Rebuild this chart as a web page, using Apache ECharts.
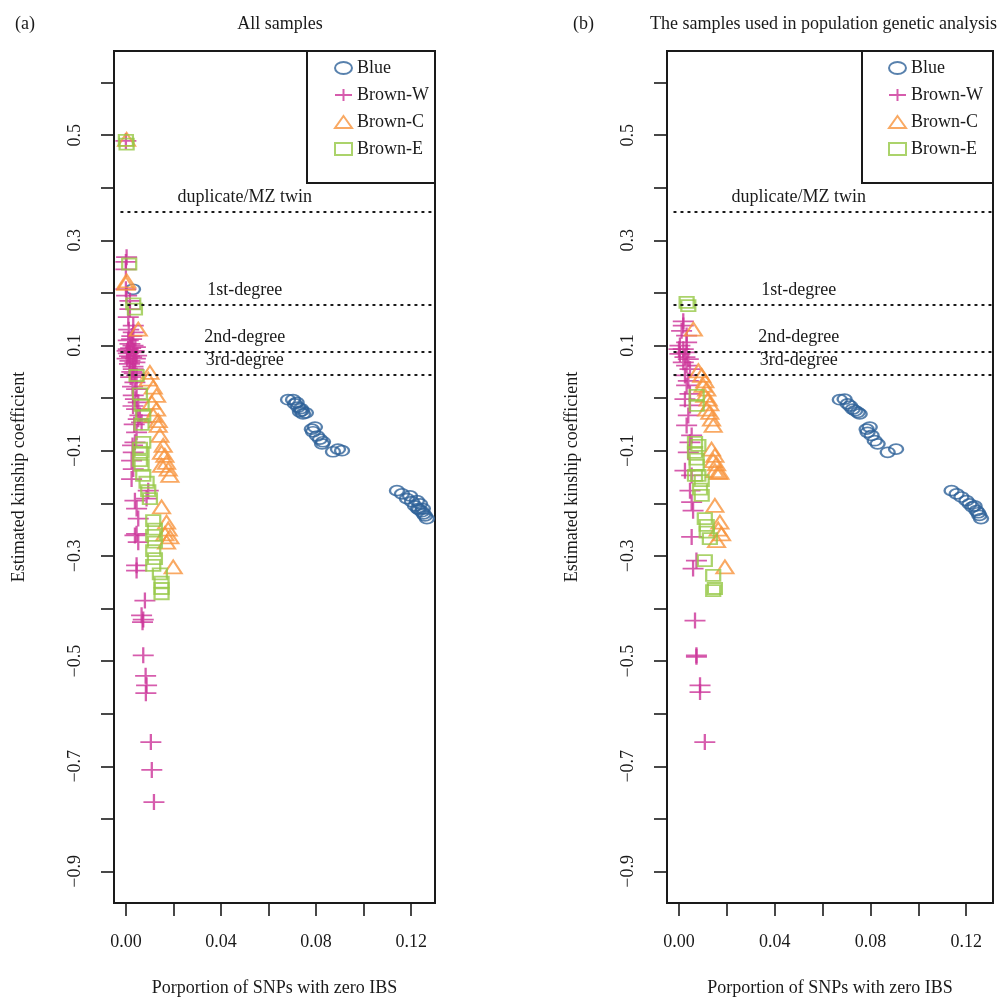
<!DOCTYPE html>
<html>
<head>
<meta charset="utf-8">
<script src="https://cdn.jsdelivr.net/npm/echarts@6/dist/echarts.min.js"></script>
<style>
  html, body { margin: 0; padding: 0; background: #fff; }
  #main { width: 1004px; height: 1003px; }
</style>
</head>
<body>
<div id="main"></div>
<script>
// [x = proportion of SNPs with zero IBS, y = estimated kinship coefficient]
const blueA = [
  [0.0030, 0.207],
  [0.0682, -0.003], [0.0703, -0.003], [0.0711, -0.011], [0.0724, -0.017], [0.0732, -0.026],
  [0.0740, -0.024], [0.0745, -0.030], [0.0757, -0.028], [0.0718, -0.008], [0.0736, -0.020],
  [0.0782, -0.059], [0.0795, -0.055], [0.0787, -0.064], [0.0804, -0.072], [0.0816, -0.078],
  [0.0825, -0.087], [0.0829, -0.083], [0.0871, -0.102], [0.0892, -0.097], [0.0909, -0.100],
  [0.1140, -0.176], [0.1161, -0.182], [0.1182, -0.191], [0.1195, -0.186], [0.1203, -0.197],
  [0.1216, -0.205], [0.1224, -0.195], [0.1228, -0.210], [0.1237, -0.201], [0.1245, -0.216],
  [0.1249, -0.210], [0.1258, -0.224], [0.1266, -0.229], [0.1252, -0.220], [0.1233, -0.212]
];
const brownWA = [
  [0.0000, 0.489],
  [0.0003, 0.268], [0.0000, 0.259], [0.0000, 0.245], [0.0000, 0.207], [0.0003, 0.195],
  [0.0017, 0.185], [0.0017, 0.169], [0.0010, 0.154], [0.0031, 0.138], [0.0031, 0.125],
  [0.0024, 0.112], [0.0010, 0.110], [0.0017, 0.103], [0.0030, 0.100], [0.0010, 0.093],
  [0.0005, 0.090], [0.0020, 0.095], [0.0035, 0.090], [0.0031, 0.087], [0.0010, 0.085],
  [0.0024, 0.078], [0.0045, 0.081], [0.0005, 0.075], [0.0040, 0.075], [0.0017, 0.071],
  [0.0038, 0.068], [0.0015, 0.065], [0.0030, 0.060], [0.0031, 0.055], [0.0025, 0.050],
  [0.0045, 0.043], [0.0020, 0.040], [0.0038, 0.030], [0.0045, 0.017], [0.0031, 0.005],
  [0.0012, 0.130], [0.0025, 0.118], [0.0040, 0.097], [0.0015, 0.080], [0.0035, 0.047],
  [0.0028, 0.022], [0.0040, -0.002], [0.0030, -0.015], [0.0035, -0.050], [0.0028, -0.090],
  [0.0052, -0.008], [0.0045, -0.021], [0.0059, -0.033], [0.0052, -0.040], [0.0066, -0.046],
  [0.0045, -0.065], [0.0038, -0.084], [0.0031, -0.103], [0.0024, -0.119], [0.0031, -0.135],
  [0.0024, -0.154], [0.0094, -0.176], [0.0087, -0.191], [0.0038, -0.195], [0.0045, -0.210],
  [0.0052, -0.229], [0.0045, -0.258], [0.0038, -0.261], [0.0052, -0.274], [0.0045, -0.318],
  [0.0045, -0.328], [0.0080, -0.385], [0.0066, -0.413], [0.0073, -0.421], [0.0070, -0.426],
  [0.0073, -0.489], [0.0083, -0.528], [0.0087, -0.546], [0.0084, -0.561], [0.0105, -0.654],
  [0.0109, -0.707], [0.0118, -0.768]
];
const brownCA = [
  [0.0003, 0.492], [0.0003, 0.223], [0.0000, 0.218], [0.0052, 0.131], [0.0101, 0.049],
  [0.0094, 0.036], [0.0115, 0.021], [0.0129, 0.005], [0.0108, -0.008], [0.0129, -0.021],
  [0.0115, -0.033], [0.0136, -0.043], [0.0136, -0.052], [0.0143, -0.071], [0.0157, -0.090],
  [0.0150, -0.103], [0.0164, -0.109], [0.0171, -0.122], [0.0150, -0.128], [0.0178, -0.135],
  [0.0185, -0.147], [0.0150, -0.207], [0.0171, -0.236], [0.0178, -0.249], [0.0164, -0.258],
  [0.0185, -0.264], [0.0171, -0.274], [0.0199, -0.321]
];
const brownEA = [
  [0.0003, 0.483], [0.0000, 0.490], [0.0014, 0.255], [0.0031, 0.179], [0.0038, 0.169],
  [0.0045, 0.043], [0.0059, 0.008], [0.0066, -0.014], [0.0073, -0.033], [0.0066, -0.050],
  [0.0073, -0.084], [0.0059, -0.095], [0.0066, -0.103], [0.0059, -0.119], [0.0066, -0.128],
  [0.0073, -0.147], [0.0087, -0.160], [0.0094, -0.176], [0.0101, -0.191], [0.0115, -0.233],
  [0.0122, -0.249], [0.0115, -0.261], [0.0122, -0.274], [0.0115, -0.290], [0.0122, -0.305],
  [0.0115, -0.318], [0.0143, -0.334], [0.0150, -0.350], [0.0150, -0.362], [0.0150, -0.372]
];

const blueB = [
  [0.0672, -0.003], [0.0692, -0.002], [0.0705, -0.011], [0.0715, -0.015], [0.0726, -0.021],
  [0.0736, -0.024], [0.0747, -0.027], [0.0755, -0.030], [0.0784, -0.059], [0.0797, -0.055],
  [0.0788, -0.065], [0.0805, -0.071], [0.0818, -0.081], [0.0830, -0.087], [0.0872, -0.103],
  [0.0907, -0.097], [0.1139, -0.176], [0.1160, -0.182], [0.1180, -0.188], [0.1201, -0.195],
  [0.1214, -0.201], [0.1226, -0.207], [0.1243, -0.214], [0.1255, -0.223], [0.1262, -0.229],
  [0.1235, -0.205], [0.1250, -0.218]
];
const brownWB = [
  [0.0018, 0.146], [0.0018, 0.138], [0.0011, 0.128], [0.0032, 0.119], [0.0032, 0.106],
  [0.0004, 0.100], [0.0000, 0.093], [0.0018, 0.093], [0.0032, 0.087], [0.0004, 0.084],
  [0.0025, 0.078], [0.0039, 0.074], [0.0018, 0.068], [0.0032, 0.062], [0.0046, 0.055],
  [0.0025, 0.043], [0.0039, 0.033], [0.0032, 0.024], [0.0046, 0.008], [0.0025, -0.002],
  [0.0046, -0.014], [0.0039, -0.033], [0.0032, -0.052], [0.0053, -0.071], [0.0046, -0.084],
  [0.0039, -0.103], [0.0025, -0.138], [0.0053, -0.147], [0.0046, -0.176], [0.0053, -0.198],
  [0.0059, -0.214], [0.0053, -0.264], [0.0073, -0.309], [0.0059, -0.324], [0.0067, -0.423],
  [0.0073, -0.489], [0.0073, -0.492], [0.0088, -0.546], [0.0088, -0.559], [0.0108, -0.654]
];
const brownCB = [
  [0.0060, 0.131], [0.0081, 0.052], [0.0095, 0.043], [0.0108, 0.033], [0.0101, 0.024],
  [0.0116, 0.017], [0.0108, 0.005], [0.0122, -0.002], [0.0129, -0.011], [0.0116, -0.021],
  [0.0129, -0.027], [0.0136, -0.040], [0.0143, -0.052], [0.0136, -0.097], [0.0150, -0.109],
  [0.0143, -0.119], [0.0157, -0.125], [0.0150, -0.138], [0.0164, -0.141], [0.0171, -0.141],
  [0.0150, -0.204], [0.0171, -0.236], [0.0164, -0.249], [0.0178, -0.258], [0.0157, -0.271],
  [0.0192, -0.321]
];
const brownEB = [
  [0.0032, 0.182], [0.0039, 0.176], [0.0074, 0.005], [0.0074, -0.014], [0.0067, -0.084],
  [0.0081, -0.090], [0.0067, -0.103], [0.0074, -0.116], [0.0074, -0.128], [0.0067, -0.147],
  [0.0081, -0.147], [0.0095, -0.157], [0.0088, -0.173], [0.0095, -0.185], [0.0108, -0.229],
  [0.0116, -0.242], [0.0116, -0.255], [0.0129, -0.267], [0.0108, -0.309], [0.0143, -0.337],
  [0.0150, -0.362], [0.0143, -0.366]
];

const groupNames = ['Blue', 'Brown-W', 'Brown-C', 'Brown-E'];
const groupColors = ['#2e6199', '#cc3399', '#f7943c', '#96c846'];

// kinship thresholds (KING)
const thresholdNames = ['duplicate/MZ twin', '1st-degree', '2nd-degree', '3rd-degree'];
const thresholdValues = [0.3536, 0.1768, 0.0884, 0.0442];

const xTicks = [0, 0.02, 0.04, 0.06, 0.08, 0.10, 0.12];
const xLabels = [0, 0.04, 0.08, 0.12];
const yTicks = [0.6, 0.5, 0.4, 0.3, 0.2, 0.1, 0, -0.1, -0.2, -0.3, -0.4, -0.5, -0.6, -0.7, -0.8, -0.9];
const yLabels = [0.5, 0.3, 0.1, -0.1, -0.3, -0.5, -0.7, -0.9];

const FONT = "'Liberation Serif', 'Times New Roman', serif";
const INK = '#1a1a1a';

const ellipse = 'path://M0,10A10,10,0,1,1,20,10A10,10,0,1,1,0,10Z';
const plus = 'path://M0,10L20,10M10,0L10,20';
const groupSymbols = [ellipse, plus, 'triangle', 'rect'];
const groupSizes = [[14, 10], [21, 16], [17, 13], [14, 11]];

const chart = echarts.init(document.getElementById('main'), null, { renderer: 'canvas' });

function makeXAxis(gridIndex, max) {
  return {
    type: 'value', gridIndex: gridIndex, min: -0.005, max: max,
    splitLine: { show: false },
    axisLine: { show: false, onZero: false },
    axisTick: { show: true, inside: false, length: 13, customValues: xTicks,
      lineStyle: { color: INK, width: 1.6 } },
    axisLabel: { customValues: xLabels, margin: 30, color: INK, fontSize: 18, fontFamily: FONT,
      formatter: function (v) { return v.toFixed(2); } },
    name: 'Porportion of SNPs with zero IBS',
    nameLocation: 'middle', nameGap: 76,
    nameTextStyle: { color: INK, fontSize: 18, fontFamily: FONT }
  };
}

function makeYAxis(gridIndex) {
  return {
    type: 'value', gridIndex: gridIndex, min: -0.96, max: 0.66,
    splitLine: { show: false },
    axisLine: { show: false, onZero: false },
    axisTick: { show: true, inside: false, length: 13, customValues: yTicks,
      lineStyle: { color: INK, width: 1.6 } },
    axisLabel: { customValues: yLabels, rotate: 90, margin: 30, color: INK, fontSize: 18, fontFamily: FONT,
      formatter: function (v) { return (v < 0 ? '\u2212' : '') + Math.abs(v).toFixed(1); } },
    name: 'Estimated kinship coefficient',
    nameLocation: 'middle', nameGap: 86, nameRotate: 90,
    nameTextStyle: { color: INK, fontSize: 18, fontFamily: FONT }
  };
}

function makeSeries(idx, data, axisIndex) {
  return {
    name: groupNames[idx],
    type: 'scatter',
    xAxisIndex: axisIndex, yAxisIndex: axisIndex,
    data: data,
    symbol: groupSymbols[idx],
    symbolSize: groupSizes[idx],
    itemStyle: { color: 'rgba(0,0,0,0)', borderColor: groupColors[idx], borderWidth: 2 },
    emphasis: { disabled: true },
    z: 3
  };
}

function makeRefLines(axisIndex, xMax) {
  return {
    type: 'scatter', name: 'ref' + axisIndex,
    xAxisIndex: axisIndex, yAxisIndex: axisIndex,
    data: [], silent: true,
    markLine: {
      silent: true, symbol: ['none', 'none'],
      label: { show: false },
      lineStyle: { color: INK, width: 1.8, type: [1.6, 5.4], cap: 'round' },
      data: thresholdValues.map(function (t) {
        return [{ coord: [-0.002, t] }, { coord: [xMax, t] }];
      })
    },
    markPoint: {
      silent: true, symbol: 'circle', symbolSize: 1,
      itemStyle: { color: 'rgba(0,0,0,0)' },
      label: { show: true, position: 'top', distance: 5, color: INK, fontSize: 18, fontFamily: FONT,
        formatter: function (p) { return p.name; } },
      data: thresholdValues.map(function (t, i) {
        return { name: thresholdNames[i], coord: [0.05, t] };
      })
    }
  };
}

function makeLegend(left) {
  return {
    orient: 'vertical', left: left, top: 59, padding: 0,
    itemWidth: 17, itemHeight: 12, itemGap: 9,
    symbolKeepAspect: false,
    selectedMode: false,
    textStyle: { color: INK, fontSize: 18, fontFamily: FONT },
    data: groupNames.map(function (n, i) {
      return {
        name: n, icon: groupSymbols[i],
        itemStyle: { color: 'rgba(0,0,0,0)', borderColor: groupColors[i], borderWidth: 2 }
      };
    })
  };
}

const gridBox = { show: true, borderColor: INK, borderWidth: 2, backgroundColor: 'rgba(0,0,0,0)' };

const option = {
  animation: false,
  backgroundColor: '#fff',
  title: [
    { text: '(a)', left: 10, top: 10, textStyle: { color: INK, fontSize: 18, fontWeight: 'normal', fontFamily: FONT } },
    { text: 'All samples', left: 275, top: 10, textAlign: 'center', textStyle: { color: INK, fontSize: 18, fontWeight: 'normal', fontFamily: FONT } },
    { text: '(b)', left: 568, top: 10, textStyle: { color: INK, fontSize: 18, fontWeight: 'normal', fontFamily: FONT } },
    { text: 'The samples used in population genetic analysis', left: 645, top: 10, textStyle: { color: INK, fontSize: 18, fontWeight: 'normal', fontFamily: FONT } }
  ],
  grid: [
    Object.assign({ left: 114, right: 569, top: 51, bottom: 100 }, gridBox),
    Object.assign({ left: 667, right: 11, top: 51, bottom: 100 }, gridBox)
  ],
  xAxis: [makeXAxis(0, 0.130), makeXAxis(1, 0.1312)],
  yAxis: [makeYAxis(0), makeYAxis(1)],
  legend: [makeLegend(334), makeLegend(888)],
  graphic: [
    { type: 'rect', shape: { x: 307, y: 51, width: 128, height: 132 }, style: { fill: 'none', stroke: INK, lineWidth: 2 }, silent: true, z: 10 },
    { type: 'rect', shape: { x: 862, y: 51, width: 131, height: 132 }, style: { fill: 'none', stroke: INK, lineWidth: 2 }, silent: true, z: 10 }
  ],
  series: [
    makeRefLines(0, 0.130),
    makeRefLines(1, 0.1312),
    makeSeries(0, blueA, 0),
    makeSeries(1, brownWA, 0),
    makeSeries(2, brownCA, 0),
    makeSeries(3, brownEA, 0),
    makeSeries(0, blueB, 1),
    makeSeries(1, brownWB, 1),
    makeSeries(2, brownCB, 1),
    makeSeries(3, brownEB, 1)
  ]
};

chart.setOption(option);
</script>
</body>
</html>
